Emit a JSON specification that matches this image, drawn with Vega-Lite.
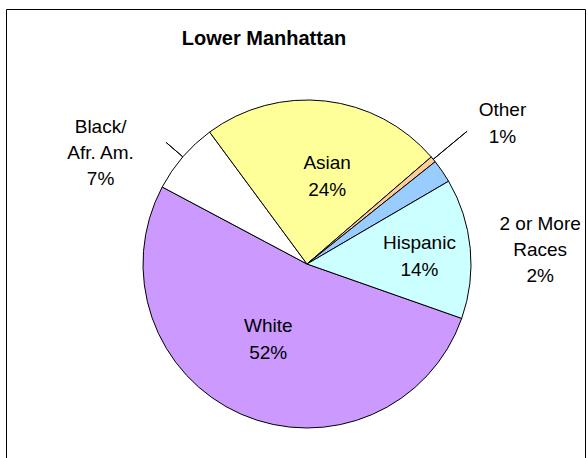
{
  "$schema": "https://vega.github.io/schema/vega-lite/v6.json",
  "width": 579,
  "height": 460,
  "autosize": {"type": "none"},
  "padding": {"left": 6, "top": 9, "right": 3, "bottom": 0},
  "background": "white",
  "view": {"stroke": "black", "strokeWidth": 1},
  "title": {
    "text": "Lower Manhattan",
    "font": "Liberation Sans",
    "fontSize": 20,
    "fontWeight": "bold",
    "color": "black",
    "anchor": "middle",
    "frame": "group",
    "baseline": "alphabetic",
    "offset": -56,
    "dx": -31.5
  },
  "data": {
    "values": [
      {"cat": "White", "value": 52.4, "order": 1, "label": "White\n52%"},
      {"cat": "Black", "value": 7.1, "order": 2, "label": "Black/\nAfr. Am.\n7%"},
      {"cat": "Asian", "value": 23.8, "order": 3, "label": "Asian\n24%"},
      {"cat": "Other", "value": 0.6, "order": 4, "label": "Other\n1%"},
      {"cat": "2 or More Races", "value": 2.3, "order": 5, "label": "2 or More\nRaces\n2%"},
      {"cat": "Hispanic", "value": 13.8, "order": 6, "label": "Hispanic\n14%"}
    ]
  },
  "encoding": {
    "theta": {"field": "value", "type": "quantitative", "stack": true, "scale": {"domain": [0, 100], "range": [1.909, 8.192]}},
    "order": {"field": "order", "type": "quantitative"},
    "x": {"value": 301},
    "y": {"value": 255}
  },
  "layer": [
    {
      "mark": {"type": "arc", "radius": 164, "stroke": "black", "strokeWidth": 1},
      "encoding": {
        "color": {
          "field": "cat",
          "type": "nominal",
          "legend": null,
          "scale": {
            "domain": ["White", "Black", "Asian", "Other", "2 or More Races", "Hispanic"],
            "range": ["#CC99FF", "#FFFFFF", "#FFFF99", "#FFCC99", "#99CCFF", "#CCFFFF"]
          }
        }
      }
    },
    {
      "mark": {"type": "arc", "radius": 186, "radius2": 164, "padAngle": 3, "fillOpacity": 0, "stroke": "black", "strokeWidth": 1},
      "encoding": {
        "strokeOpacity": {"condition": {"test": "datum.cat === 'Black'", "value": 1}, "value": 0}
      }
    },
    {
      "mark": {"type": "arc", "radius": 208, "radius2": 164, "padAngle": 3, "fillOpacity": 0, "stroke": "black", "strokeWidth": 1},
      "encoding": {
        "strokeOpacity": {"condition": {"test": "datum.cat === 'Other'", "value": 1}, "value": 0}
      }
    },
    {
      "mark": {"type": "text", "radius": 91, "dx": 10, "dy": -11, "font": "Liberation Sans", "fontSize": 19, "lineHeight": 27, "lineBreak": "\n", "align": "center", "baseline": "middle", "color": "black"},
      "encoding": {"text": {"condition": {"test": "datum.cat === 'Asian'", "field": "label"}, "value": ""}}
    },
    {
      "mark": {"type": "text", "radius": 113, "dx": 0, "dy": -10, "font": "Liberation Sans", "fontSize": 19, "lineHeight": 27, "lineBreak": "\n", "align": "center", "baseline": "middle", "color": "black"},
      "encoding": {"text": {"condition": {"test": "datum.cat === 'Hispanic'", "field": "label"}, "value": ""}}
    },
    {
      "mark": {"type": "text", "radius": 84, "dx": -5, "dy": -15, "font": "Liberation Sans", "fontSize": 19, "lineHeight": 27, "lineBreak": "\n", "align": "center", "baseline": "middle", "color": "black"},
      "encoding": {"text": {"condition": {"test": "datum.cat === 'White'", "field": "label"}, "value": ""}}
    },
    {
      "mark": {"type": "text", "radius": 200, "dx": -55, "dy": -6, "font": "Liberation Sans", "fontSize": 19, "lineHeight": 26, "lineBreak": "\n", "align": "center", "baseline": "middle", "color": "black"},
      "encoding": {"text": {"condition": {"test": "datum.cat === 'Black'", "field": "label"}, "value": ""}}
    },
    {
      "mark": {"type": "text", "radius": 241, "dx": 10, "dy": 0, "font": "Liberation Sans", "fontSize": 19, "lineHeight": 27, "lineBreak": "\n", "align": "center", "baseline": "middle", "color": "black"},
      "encoding": {"text": {"condition": {"test": "datum.cat === 'Other'", "field": "label"}, "value": ""}}
    },
    {
      "mark": {"type": "text", "radius": 233, "dx": 41, "dy": 92, "font": "Liberation Sans", "fontSize": 19, "lineHeight": 26, "lineBreak": "\n", "align": "center", "baseline": "middle", "color": "black"},
      "encoding": {"text": {"condition": {"test": "datum.cat === '2 or More Races'", "field": "label"}, "value": ""}}
    }
  ]
}
